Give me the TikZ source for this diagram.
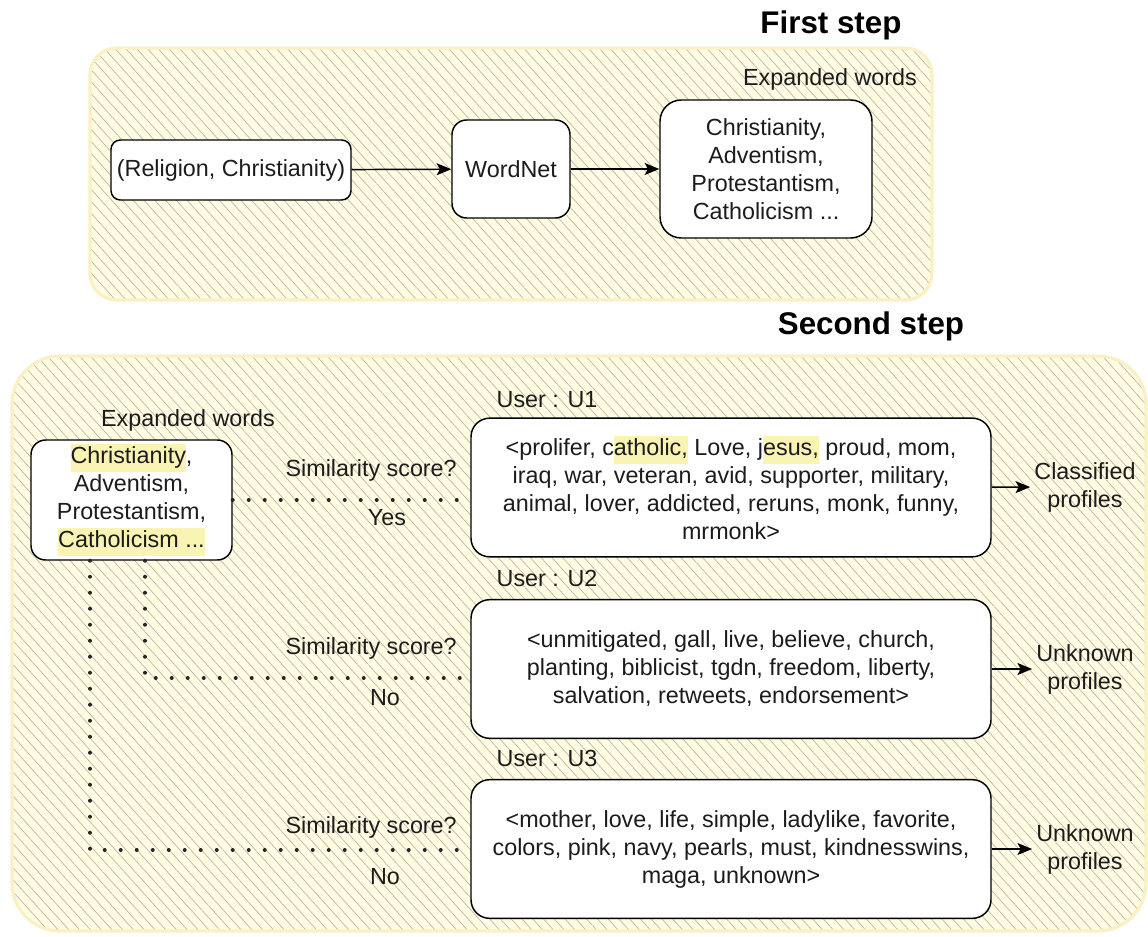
\documentclass[tikz,border=0pt]{standalone}
\usepackage{fontspec}
\setmainfont{Liberation Sans}
\usetikzlibrary{patterns.meta,arrows.meta}

\definecolor{framefill}{HTML}{FFFCE2}
\definecolor{frameedge}{HTML}{FAF0C6}
\definecolor{hatch}{HTML}{B6B6B0}
\definecolor{textcol}{HTML}{1C1C1C}
\definecolor{hlyel}{HTML}{FAF4B4}

\newcommand\bodyfont{\fontsize{17.5}{21}\selectfont}
\newcommand\titlefont{\fontsize{23.5}{28}\selectfont\bfseries}
\newcommand\hlt[1]{{\setlength{\fboxsep}{0pt}\colorbox{hlyel}{\strut #1}}}

\begin{document}
\begin{tikzpicture}[x=0.75pt,y=-0.75pt,
  stepframe/.style={draw=frameedge, line width=2.4pt,
    preaction={fill=framefill},
    pattern={Lines[angle=-48,distance=6pt,line width=0.5pt]},
    pattern color=hatch},
  box/.style={draw=black, line width=1.1pt, fill=white, align=center,
    font=\bodyfont, text=textcol, inner sep=0pt},
  lbl/.style={font=\bodyfont, text=textcol, align=center, inner sep=0pt},
  title/.style={font=\titlefont, text=black, inner sep=0pt},
  arr/.style={line width=1.1pt, draw=black,
    -{Stealth[length=11pt,width=9pt,inset=2.5pt]}},
  dotline/.style={line width=3pt, draw=black!85, line cap=round,
    dash pattern=on 0pt off 12pt}]
\useasboundingbox (0,0) rectangle (1148,937);

% ---------- first step ----------
\path[stepframe, rounded corners=20pt] (90,48) rectangle (932,300);
\node[title] (t1) at (831,25) {First step};

\node[box, minimum width=180pt, minimum height=45pt, rounded corners=7pt]
  (rel) at (231,170) {(Religion, Christianity)};
\node[box, minimum width=88.5pt, minimum height=73.5pt, rounded corners=11pt]
  (wn) at (511,169) {WordNet};
\node[box, minimum width=159pt, minimum height=103.5pt, rounded corners=16pt]
  (ex1) at (766,169) {Christianity,\\Adventism,\\Protestantism,\\Catholicism ...};
\node[lbl] (ex1l) at (830,79) {Expanded words};

\draw[arr] (rel) -- (wn);
\draw[arr] (wn) -- (ex1);

% ---------- second step ----------
\path[stepframe, rounded corners=36pt] (12,356) rectangle (1146,931);
\node[title] (t2) at (871,326) {Second step};

\node[lbl] (ex2l) at (188,420) {Expanded words};
\node[box, minimum width=150.75pt, minimum height=90pt, rounded corners=11pt]
  (ex2) at (131.5,500)
  {\hlt{Christianity},\\Adventism,\\Protestantism,\\\hlt{Catholicism ...}};

\node[box, minimum width=390pt, minimum height=104pt, rounded corners=14pt]
  (u1) at (731,487.5)
  {<prolifer, c\hlt{atholic,} Love, j\hlt{esus,} proud, mom,\\
   iraq, war, veteran, avid, supporter, military,\\
   animal, lover, addicted, reruns, monk, funny,\\
   mrmonk>};
\node[lbl] (u1l) at (547,400) {User : U1};

\node[box, minimum width=390pt, minimum height=104pt, rounded corners=14pt]
  (u2) at (731,669)
  {<unmitigated, gall, live, believe, church,\\
   planting, biblicist, tgdn, freedom, liberty,\\
   salvation, retweets, endorsement>};
\node[lbl] (u2l) at (547,578) {User : U2};

\node[box, minimum width=390pt, minimum height=104pt, rounded corners=14pt]
  (u3) at (731,849)
  {<mother, love, life, simple, ladylike, favorite,\\
   colors, pink, navy, pearls, must, kindnesswins,\\
   maga, unknown>};
\node[lbl] (u3l) at (547,758) {User : U3};

% outcomes
\node[lbl, inner sep=3pt] (c1) at (1085,487) {Classified\\profiles};
\node[lbl, inner sep=3pt] (c2) at (1085,669) {Unknown\\profiles};
\node[lbl, inner sep=3pt] (c3) at (1085,849) {Unknown\\profiles};
\draw[arr] (u1) -- (c1);
\draw[arr] (u2) -- (c2);
\draw[arr] (u3) -- (c3);

% similarity checks
\node[lbl, anchor=east] (s1) at (457,470) {Similarity score?};
\node[lbl] (y1) at (387,518) {Yes};
\node[lbl, anchor=east] (s2) at (457,648) {Similarity score?};
\node[lbl] (n2) at (385,698) {No};
\node[lbl, anchor=east] (s3) at (457,827) {Similarity score?};
\node[lbl] (n3) at (385,877) {No};

\coordinate (k2) at (145,678);
\coordinate (k3) at (90,850);
\draw[dotline] (ex2.east) -- (ex2.east -| u1.west);
\draw[dotline] (ex2.south -| k2) -- (k2) -- (k2 -| u2.west);
\draw[dotline] (ex2.south -| k3) -- (k3) -- (k3 -| u3.west);
\end{tikzpicture}
\end{document}
